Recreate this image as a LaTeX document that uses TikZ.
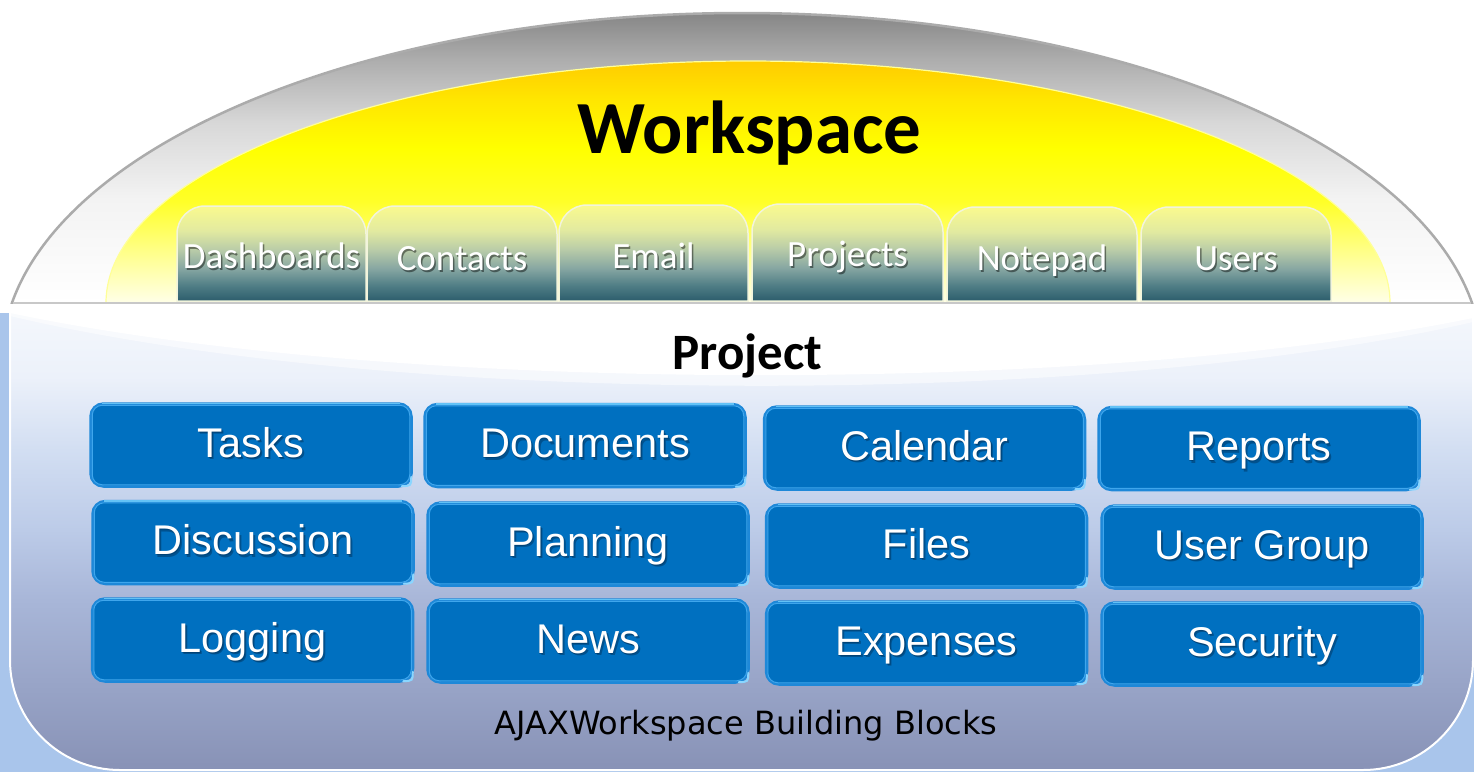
\documentclass[tikz,border=0pt]{standalone}
\usepackage{fontspec}
\setmainfont{Carlito}
\newfontfamily\arialf{Liberation Sans}
\newfontfamily\verdf{DejaVu Sans}
\usetikzlibrary{calc}
\definecolor{bgblue}{HTML}{A9C5EB}
\definecolor{g0}{HTML}{868686}
\definecolor{g1}{HTML}{ADADAD}
\definecolor{g2}{HTML}{D8D8D8}
\definecolor{g3}{HTML}{F3F3F3}
\definecolor{domeedge}{HTML}{ABABAB}
\definecolor{baseedge}{HTML}{C8C8C8}
\definecolor{y0}{HTML}{FFCC00}
\definecolor{y1}{HTML}{FFE600}
\definecolor{y2}{HTML}{FFFF00}
\definecolor{y3}{HTML}{FFFF28}
\definecolor{y4}{HTML}{FFFF98}
\definecolor{y5}{HTML}{FFFFE8}
\definecolor{t0}{HTML}{2C5D6C}
\definecolor{t1}{HTML}{4F7D85}
\definecolor{t2}{HTML}{86A6A2}
\definecolor{t3}{HTML}{B9CCA8}
\definecolor{t4}{HTML}{E2EAA0}
\definecolor{t5}{HTML}{FAFA8E}
\definecolor{tabedge}{HTML}{F2F4DC}
\definecolor{p0}{HTML}{8892B6}
\definecolor{p1}{HTML}{A8B6D8}
\definecolor{p2}{HTML}{BCCBE8}
\definecolor{p3}{HTML}{D2DEF2}
\definecolor{p4}{HTML}{ECF1FA}
\definecolor{p5}{HTML}{F4F7FC}
\definecolor{btnfill}{HTML}{0070C0}
\definecolor{btnedge}{HTML}{1E88D8}
\definecolor{btnhi}{HTML}{3FA6EC}
\definecolor{btntop}{HTML}{62C2F6}
\definecolor{btnglare}{HTML}{8AD6FF}
\definecolor{btnshade}{HTML}{00345E}
\pgfdeclareverticalshading{graydome}{100bp}{color(0bp)=(white); color(25bp)=(white); color(43bp)=(g3); color(56bp)=(g2); color(67bp)=(g1); color(75bp)=(g0); color(100bp)=(g0)}
\pgfdeclareverticalshading{yellowdome}{100bp}{color(0bp)=(y5); color(25bp)=(y5); color(34bp)=(y4); color(46bp)=(y3); color(57bp)=(y2); color(67bp)=(y1); color(75bp)=(y0); color(100bp)=(y0)}
\pgfdeclareverticalshading{tabshade}{100bp}{color(0bp)=(t0); color(25bp)=(t0); color(33bp)=(t1); color(42bp)=(t2); color(52bp)=(t3); color(62bp)=(t4); color(75bp)=(t5); color(100bp)=(t5)}
\pgfdeclareverticalshading{panelshade}{100bp}{color(0bp)=(p0); color(25bp)=(p0); color(43.6bp)=(p1); color(51.3bp)=(p2); color(60bp)=(p3); color(68bp)=(p4); color(75bp)=(p5); color(100bp)=(p5)}
\tikzset{
  tabtxt/.style={font=\fontsize{37}{37}\selectfont, text=white, anchor=base, inner sep=0pt},
  tabshadow/.style={tabtxt, text=black, opacity=0.45},
  btnbox/.style={draw=btnedge, line width=2.5pt, fill=btnfill, rounded corners=13pt,
    minimum width=321pt, minimum height=83pt, inner sep=0pt, anchor=center},
  btntxt/.style={font=\arialf\fontsize{41.5}{41.5}\selectfont, text=white, anchor=base, inner sep=0pt},
  btnshadow/.style={btntxt, text=btnshade, opacity=0.5},
  title/.style={font=\bfseries\fontsize{75}{75}\selectfont, text=black, anchor=base, inner sep=0pt},
  subtitle/.style={font=\bfseries\fontsize{51}{51}\selectfont, text=black, anchor=base, inner sep=0pt},
  caption/.style={font=\verdf\fontsize{32}{32}\selectfont, text=black, anchor=base, inner sep=0pt}
}
\newcommand\mktab[6]{%
  \shade[shading=tabshade, draw=tabedge, line width=1.5pt]
    (#2,301) -- (#2,#4+28) arc[start angle=180, end angle=90, radius=28pt]
    -- (#3-28,#4) arc[start angle=90, end angle=0, radius=28pt] -- (#3,301) -- cycle;
  \node[tabshadow] (#1s) at ({(#2+#3)/2+1.5},#5+2) {#6};
  \node[tabtxt] (#1) at ({(#2+#3)/2},#5) {#6};
}
\newcommand\mkbtn[4]{%
  \node[btnbox] (#1) at (#2,#3) {};
  \draw[btnhi, line width=1pt, rounded corners=10pt] ($(#1.north west)+(3,3)$) rectangle ($(#1.south east)+(-3,-3)$);
  \draw[btntop, line width=1.5pt] ($(#1.north west)+(13,1)$) -- ($(#1.north east)+(-13,1)$);
  \draw[btnglare, line width=2pt, line cap=round] ($(#1.south east)+(-1.5,-11)$) .. controls ($(#1.south east)+(-1.5,-2)$) .. ($(#1.south east)+(-11,-1.5)$);
  \node[btnshadow] (#1s) at ($(#1.center)+(2,14.5)$) {#4};
  \node[btnshadow] (#1s2) at ($(#1.center)+(0.5,13)$) {#4};
  \node[btntxt] (#1t) at ($(#1.center)+(0,12)$) {#4};
}
\begin{document}
\begin{tikzpicture}[x=1pt, y=-1pt]
\useasboundingbox (0,0) rectangle (1474,772);
\fill[white] (0,0) rectangle (1474,772);
% outer dome
\begin{scope}
  \clip (742,360) ellipse [x radius=740pt, y radius=347pt];
  \shade[shading=graydome] (0,13) rectangle (1474,303);
\end{scope}
\begin{scope}
  \clip (0,0) rectangle (1474,303);
  \draw[domeedge, line width=2.5pt] (742,360) ellipse [x radius=740pt, y radius=347pt];
\end{scope}
% inner yellow dome
\begin{scope}
  \clip (748,303) ellipse [x radius=642pt, y radius=242pt];
  \shade[shading=yellowdome] (100,61) rectangle (1400,303);
\end{scope}
\begin{scope}
  \clip (0,0) rectangle (1474,302);
  \draw[y4, line width=1.2pt] (748,303) ellipse [x radius=642pt, y radius=242pt];
\end{scope}
\draw[baseedge, line width=2pt] (13,303) -- (1471,303);
% tabs
\mktab{dash}{177}{366}{206}{268}{Dashboards}
\mktab{cont}{367}{557}{206}{270}{Contacts}
\mktab{email}{559}{748}{205}{268}{Email}
\mktab{proj}{752}{943}{204}{266}{Projects}
\mktab{note}{947}{1137}{207}{270}{Notepad}
\mktab{users}{1141}{1331}{207}{270}{Users}
\node[title] (ws) at (749.5,153) {Workspace};
% lower panel
\fill[bgblue] (0,313) rectangle (1474,772);
\begin{scope}
  \clip[rounded corners=110pt] (10,150) rectangle (1473,770);
  \shade[shading=panelshade] (10,313) rectangle (1473,770);
\end{scope}
\begin{scope}
  \clip (0,313) rectangle (1474,772);
  \draw[white, line width=2pt, rounded corners=110pt] (10,150) rectangle (1473,770);
\end{scope}
\fill[white, opacity=0.5] (10,312) -- (1473,312) -- (1473,322) .. controls (1100,408) and (400,408) .. (10,316) -- cycle;
\fill[white] (10,312) -- (1473,312) -- (1473,318) .. controls (1100,395) and (400,395) .. (10,313) -- cycle;
\node[subtitle] (pr) at (747.5,369) {Project};
% buttons
\mkbtn{b11}{251}{445}{Tasks}
\mkbtn{b12}{585}{445.5}{Documents}
\mkbtn{b13}{924.5}{448}{Calendar}
\mkbtn{b14}{1259}{448.5}{Reports}
\mkbtn{b21}{253}{542.5}{Discussion}
\mkbtn{b22}{588}{544}{Planning}
\mkbtn{b23}{926.5}{546}{Files}
\mkbtn{b24}{1262}{547}{User Group}
\mkbtn{b31}{252.5}{640}{Logging}
\mkbtn{b32}{588}{641}{News}
\mkbtn{b33}{926.5}{643}{Expenses}
\mkbtn{b34}{1262}{644}{Security}
\node[caption] (cap) at (746,734) {AJAXWorkspace Building Blocks};
\end{tikzpicture}
\end{document}
